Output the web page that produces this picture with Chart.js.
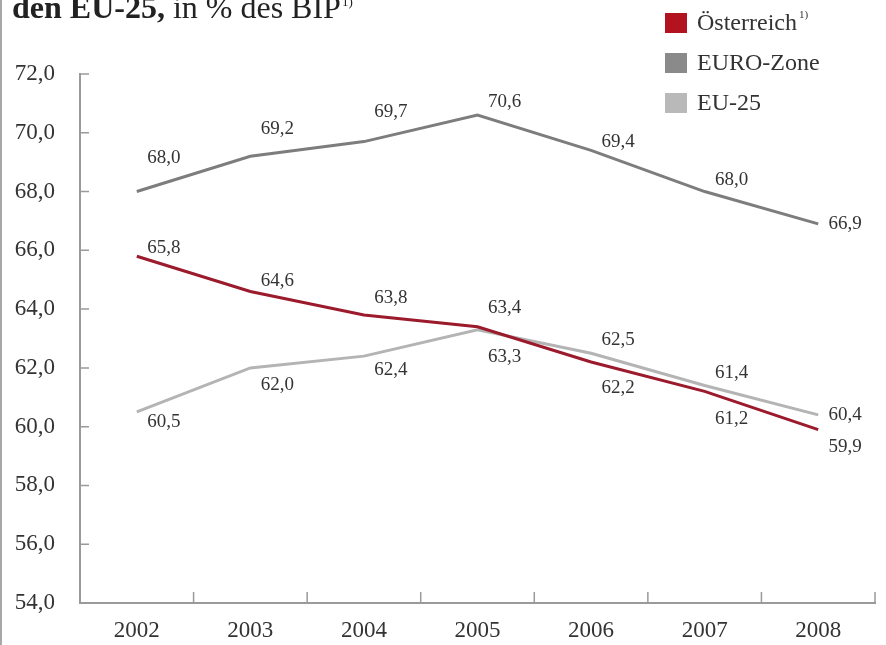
<!DOCTYPE html>
<html>
<head>
<meta charset="utf-8">
<script src="https://cdn.jsdelivr.net/npm/chart.js@4/dist/chart.umd.min.js"></script>
<style>
  html, body { margin: 0; padding: 0; background: #fff; }
  #wrap { width: 886px; height: 645px; }
</style>
</head>
<body>
<div id="wrap"><canvas id="grafico" width="886" height="645"></canvas></div>
<script>
// Daten
const jahre = ['2002', '2003', '2004', '2005', '2006', '2007', '2008'];
const oesterreich = [65.8, 64.6, 63.8, 63.4, 62.2, 61.2, 59.9];
const euroZone = [68.0, 69.2, 69.7, 70.6, 69.4, 68.0, 66.9];
const eu25 = [60.5, 62.0, 62.4, 63.3, 62.5, 61.4, 60.4];
const yMin = 54;
const yMax = 72;
const ySchritt = 2;

const schrift = "'Liberation Serif', 'DejaVu Serif', serif";
const zahl = v => v.toFixed(1).replace('.', ',');

// vertikaler Versatz der Wertbeschriftungen je Reihe
const labelVersatz = [
  [-8, -10, -17, -19, 26, 28, 17],
  [-34, -27, -30, -13, -8, -12, 0],
  [10, 17, 14, 27, -13, -13, 0]
];

// Hintergrund und linker Rand
const hintergrund = {
  id: 'hintergrund',
  beforeDraw(chart) {
    const ctx = chart.ctx;
    ctx.save();
    ctx.fillStyle = '#fff';
    ctx.fillRect(0, 0, chart.width, chart.height);
    ctx.fillStyle = '#a8a8a8';
    ctx.fillRect(0, 0, 2, chart.height);
    ctx.restore();
  }
};

// Titel (oben abgeschnitten wie in der Vorlage)
const titel = {
  id: 'titel',
  afterDraw(chart) {
    const ctx = chart.ctx;
    ctx.save();
    ctx.fillStyle = '#222';
    ctx.textBaseline = 'alphabetic';
    ctx.font = 'bold 32px ' + schrift;
    ctx.fillText('den EU-25,', 12, 18);
    let x = 12 + ctx.measureText('den EU-25,').width;
    ctx.font = '32px ' + schrift;
    ctx.fillText(' in % des BIP', x, 18);
    x += ctx.measureText(' in % des BIP').width;
    ctx.font = '13px ' + schrift;
    ctx.fillText('1)', x + 1, 6);
    ctx.restore();
  }
};

// Striche nach innen an beiden Achsen
const achsenStriche = {
  id: 'achsenStriche',
  afterDraw(chart) {
    const { ctx, chartArea, scales } = chart;
    const x = scales.x, y = scales.y;
    ctx.save();
    ctx.strokeStyle = '#9a9a9a';
    ctx.lineWidth = 1.5;
    ctx.beginPath();
    y.ticks.forEach(t => {
      const py = y.getPixelForValue(t.value);
      ctx.moveTo(chartArea.left, py);
      ctx.lineTo(chartArea.left + 9, py);
    });
    const n = jahre.length;
    const breite = (chartArea.right - chartArea.left) / n;
    for (let i = 1; i <= n; i++) {
      const px = chartArea.left + i * breite;
      ctx.moveTo(px, chartArea.bottom);
      ctx.lineTo(px, chartArea.bottom - 11);
    }
    ctx.stroke();
    ctx.restore();
  }
};

// Wertbeschriftungen an den Punkten
const wertLabels = {
  id: 'wertLabels',
  afterDatasetsDraw(chart) {
    const ctx = chart.ctx;
    ctx.save();
    ctx.font = '19px ' + schrift;
    ctx.fillStyle = '#333';
    ctx.textAlign = 'center';
    ctx.textBaseline = 'middle';
    chart.data.datasets.forEach((ds, i) => {
      const meta = chart.getDatasetMeta(i);
      meta.data.forEach((pt, j) => {
        ctx.fillText(zahl(ds.data[j]), pt.x + 27, pt.y + labelVersatz[i][j]);
      });
    });
    ctx.restore();
  }
};

// Legende oben rechts
const legende = {
  id: 'legende',
  afterDraw(chart) {
    const ctx = chart.ctx;
    ctx.save();
    ctx.textBaseline = 'middle';
    chart.data.datasets.forEach((ds, i) => {
      const cy = 23 + i * 40;
      ctx.fillStyle = ds.legendFarbe;
      ctx.fillRect(665, cy - 10, 22, 20);
      ctx.fillStyle = '#333';
      ctx.font = '24px ' + schrift;
      ctx.fillText(ds.label, 697, cy + 1);
      if (ds.fussnote) {
        const w = ctx.measureText(ds.label).width;
        ctx.font = '11px ' + schrift;
        ctx.fillText(ds.fussnote, 697 + w + 2, cy - 8);
      }
    });
    ctx.restore();
  }
};

const ctx = document.getElementById('grafico').getContext('2d');
const grafico = new Chart(ctx, {
  type: 'line',
  data: {
    labels: jahre,
    datasets: [
      {
        label: 'Österreich',
        fussnote: '1)',
        data: oesterreich,
        borderColor: '#9b1a2c',
        legendFarbe: '#b3121f',
        borderWidth: 3,
        order: 0
      },
      {
        label: 'EURO-Zone',
        data: euroZone,
        borderColor: '#7d7d7d',
        legendFarbe: '#8a8a8a',
        borderWidth: 3,
        order: 2
      },
      {
        label: 'EU-25',
        data: eu25,
        borderColor: '#b4b4b4',
        legendFarbe: '#b9b9b9',
        borderWidth: 3,
        order: 1
      }
    ]
  },
  options: {
    responsive: false,
    animation: false,
    elements: {
      point: { radius: 0 },
      line: { tension: 0 }
    },
    layout: {
      padding: { top: 74, right: 11, left: 0, bottom: 0 }
    },
    plugins: {
      legend: { display: false },
      tooltip: { enabled: false }
    },
    scales: {
      x: {
        offset: true,
        grid: { display: true, drawOnChartArea: false, drawTicks: false, offset: true, color: 'rgba(0,0,0,0)' },
        border: { display: true, color: '#9a9a9a', width: 2 },
        ticks: {
          padding: 14,
          color: '#333',
          font: { family: schrift, size: 23 },
          maxRotation: 0
        },
        afterFit(scale) { scale.height = 42; }
      },
      y: {
        min: yMin,
        max: yMax,
        grid: { display: true, drawOnChartArea: false, drawTicks: false, color: 'rgba(0,0,0,0)' },
        border: { display: true, color: '#9a9a9a', width: 2 },
        ticks: {
          stepSize: ySchritt,
          padding: 25,
          color: '#333',
          font: { family: schrift, size: 23 },
          callback: v => zahl(v)
        },
        afterFit(scale) { scale.width = 80; }
      }
    }
  },
  plugins: [hintergrund, titel, achsenStriche, wertLabels, legende]
});
</script>
</body>
</html>
